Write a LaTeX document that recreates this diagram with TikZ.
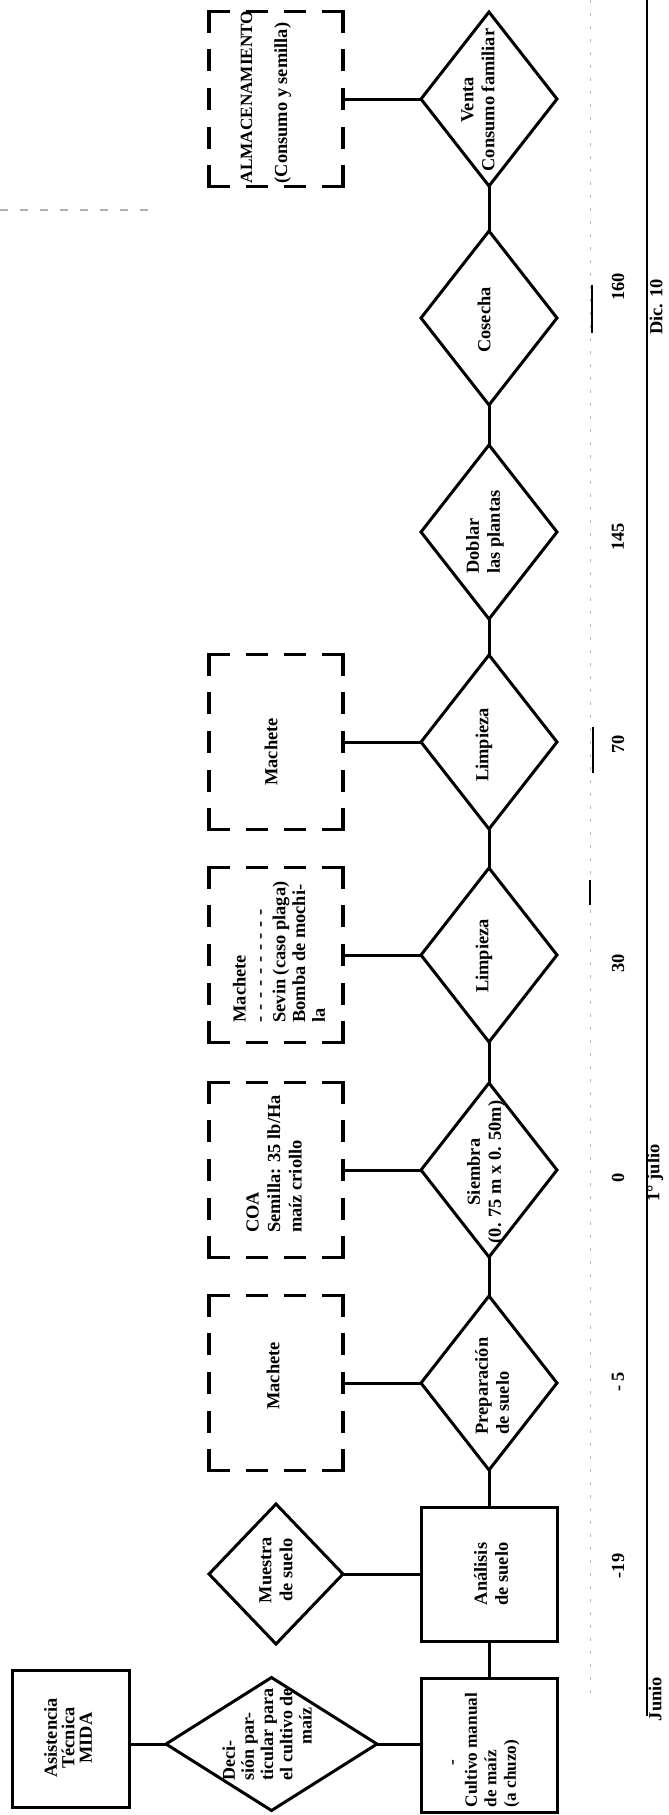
\documentclass[tikz,border=0pt]{standalone}
\usepackage{fontspec}
\setmainfont{Liberation Serif}
\usetikzlibrary{shapes.geometric}
\newcommand\dashedbox[1]{%
  \draw[dh] (#1.north west) -- (#1.north east);
  \draw[dh] (#1.south west) -- (#1.south east);
  \draw[dv] (#1.north west) -- (#1.south west);
  \draw[dv] (#1.north east) -- (#1.south east);}
\newcommand\hyrow{-\hspace{2.9pt}-\hspace{2.9pt}-\hspace{2.9pt}-\hspace{2.9pt}-\hspace{2.9pt}-\hspace{2.9pt}-\hspace{2.9pt}-\hspace{2.9pt}-\hspace{2.9pt}-}
\begin{document}
\begin{tikzpicture}[x=0.5pt,y=-0.5pt,
  every node/.style={inner sep=0pt, outer sep=0pt},
  shp/.style={draw, line width=1.5pt, line join=miter},
  dia/.style={shp, diamond, minimum width=68pt, minimum height=87pt},
  box/.style={shp, rectangle, minimum width=68pt, minimum height=67pt},
  dbx/.style={rectangle, minimum width=67pt, minimum height=87.5pt},
  dh/.style={line width=1.6pt, line cap=rect, dash pattern=on 9.57pt off 9.57pt},
  dv/.style={line width=1.6pt, line cap=rect, dash pattern=on 9.72pt off 9.72pt},
  conn/.style={line width=1.5pt},
  txt/.style={rotate=90, font=\bfseries\fontsize{9.2}{10.5}\selectfont, align=center},
  txl/.style={txt, align=left},
  faint/.style={gray!55, line width=0.5pt, dash pattern=on 1.5pt off 5pt},
]
\fill[white] (0,0) rectangle (669,1815);
\useasboundingbox (0,0) rectangle (669,1815);

% faint scan guide lines
\draw[faint] (590,0) -- (590,1700);
\draw[line width=0.6pt] (592,285) -- (592,333);
\draw[line width=0.6pt] (593,727) -- (593,773);
\draw[line width=0.6pt] (590,880) -- (590,905);
\draw[gray!60, line width=0.8pt, dash pattern=on 4pt off 6pt] (0,210) -- (150,210);

% main column
\node[dia] (venta) at (489,99) {};
\node[dia] (cosecha) at (489,318) {};
\node[dia] (doblar) at (489,532) {};
\node[dia] (limp2) at (489,742) {};
\node[dia] (limp1) at (489,955) {};
\node[dia] (siembra) at (489,1170) {};
\node[dia] (prep) at (489,1383) {};
\node[box] (anal) at (489,1574) {};
\node[box] (cult) at (489,1745) {};

% resource boxes
\node[dbx] (alm) at (276,99) {};
\node[dbx] (mach2) at (276,742) {};
\node[dbx] (sevin) at (276,955) {};
\node[dbx] (coa) at (276,1170) {};
\node[dbx] (mach1) at (276,1383) {};
\dashedbox{alm}
\dashedbox{mach2}
\dashedbox{sevin}
\dashedbox{coa}
\dashedbox{mach1}

\node[dia, minimum width=67pt, minimum height=70pt] (muestra) at (276,1574) {};
\node[dia, minimum width=105.5pt, minimum height=66.5pt] (dec) at (271.5,1744) {};
\node[box, minimum width=58.5pt, minimum height=68.5pt] (asis) at (71,1739) {};

% connectors
\draw[conn] (venta) -- (cosecha);
\draw[conn] (cosecha) -- (doblar);
\draw[conn] (doblar) -- (limp2);
\draw[conn] (limp2) -- (limp1);
\draw[conn] (limp1) -- (siembra);
\draw[conn] (siembra) -- (prep);
\draw[conn] (prep) -- (anal);
\draw[conn] (anal) -- (cult);
\draw[conn] (alm) -- (venta);
\draw[conn] (mach2) -- (limp2);
\draw[conn] (sevin) -- (limp1);
\draw[conn] (coa) -- (siembra);
\draw[conn] (mach1) -- (prep);
\draw[conn] (muestra) -- (anal);
\draw[conn] (dec) -- (cult.west |- dec);
\draw[conn] (dec.west) -- (asis.east |- dec.west);

% texts
\node[txt] (t-venta) at (478,100) {Venta\\Consumo familiar};
\node[txt] (t-cosecha) at (484,320) {Cosecha};
\node[txl] (t-doblar) at (485,532) {Doblar\\las plantas};
\node[txt] (t-limp2) at (484,745) {Limpieza};
\node[txt] (t-limp1) at (484,956) {Limpieza};
\node[txt] (t-siembra) at (486,1172) {Siembra\\(0. 75 m x 0. 50m)};
\node[txl] (t-prep) at (492,1386) {Preparación\\de suelo};
\node[txt] (t-anal) at (491,1574) {Análisis\\de suelo};
\node[txl, font=\bfseries\fontsize{8.6}{9.8}\selectfont] (t-cult) at (486,1750) {\hspace*{21pt}-\\Cultivo manual\\de maíz\\(a chuzo)};

\node[txl, font=\bfseries\fontsize{9.2}{17.5}\selectfont] (t-alm) at (266,97) {{\fontsize{8.6}{17.5}\selectfont ALMACENAMIENTO}\\(Consumo y semilla)};
\node[txt] (t-mach2) at (271,752) {Machete};
\node[txl, font=\bfseries\fontsize{9.2}{9.9}\selectfont] (t-sevin) at (279,952) {Machete\\\hyrow\\Sevin (caso plaga)\\Bomba de mochi-\\la};
\node[txl, font=\bfseries\fontsize{9.2}{10.75}\selectfont] (t-coa) at (274,1164) {COA\\Semilla: 35 lb/Ha\\maíz criollo};
\node[txt] (t-mach1) at (273,1376) {Machete};
\node[txt] (t-muestra) at (276,1570) {Muestra\\de suelo};
\node[txl, font=\bfseries\fontsize{9}{9.6}\selectfont] (t-dec) at (267,1734) {Deci-\\sión par-\\ticular para\\el cultivo de\\\hspace*{18pt}maíz};
\node[txt, font=\bfseries\fontsize{9.2}{8.8}\selectfont] (t-asis) at (68,1738) {Asistencia\\Técnica\\MIDA};

% day numbers
\node[txt] (n1) at (618,1566) {-19};
\node[txt] (n2) at (618,1382) {- 5};
\node[txt] (n3) at (618,1178) {0};
\node[txt] (n4) at (618,963) {30};
\node[txt] (n5) at (618,744) {70};
\node[txt] (n6) at (618,537) {145};
\node[txt] (n7) at (618,287) {160};

% timeline
\coordinate (tl0) at (647,0);
\coordinate (tl1) at (647,1716);
\draw[line width=1.2pt] (tl0) -- (tl1);
\node[txt] (d1) at (656,307) {Dic. 10};
\node[txt] (d2) at (655,1173) {1° julio};
\node[txt] (d3) at (655,1699) {Junio};
\end{tikzpicture}
\end{document}
